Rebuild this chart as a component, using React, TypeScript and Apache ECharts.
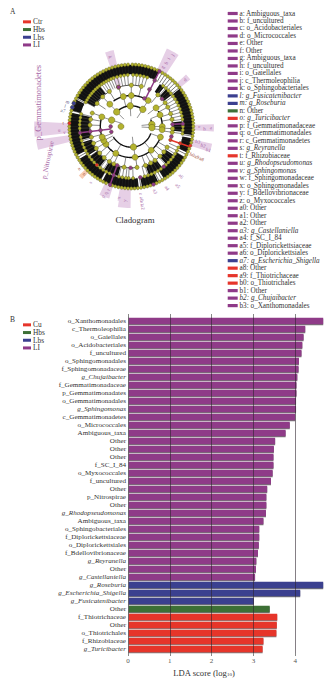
import React, { useEffect, useRef } from "react";
import * as echarts from "echarts";

// ---------- colours ----------
const PURPLE = "#8f3a88";
const BLUE = "#3b3f8f";
const GREEN = "#3d7036";
const RED = "#e6352b";
const YELLOW = "#b4b32f";
const SERIF = "Liberation Serif";

// ---------- bar chart data (top to bottom) ----------
const ldaLabels = [
  "o_Xanthomonadales", "c_Thermoleophilia", "o_Gaiellales", "o_Acidobacteriales", "f_uncultured",
  "o_Sphingomonadales", "f_Sphingomonadaceae", "g_Chujaibacter", "f_Gemmatimonadaceae", "p_Gemmatimonadates",
  "o_Gemmatimonadales", "g_Sphingomonas", "c_Gemmatimonadetes", "o_Micrococcales", "Ambiguous_taxa",
  "Other", "Other", "Other", "f_SC_I_84", "o_Myxococcales", "f_uncultured", "Other", "p_Nitrospirae", "Other",
  "g_Rhodopseudomonas", "Ambiguous_taxa", "o_Sphingobacteriales", "f_Diplorickettsiaceae", "o_Diplorickettsiales",
  "f_Bdellovibrionaceae", "g_Reyranella", "Other", "g_Castellaniella",
  "g_Roseburia", "g_Escherichia_Shigella", "g_Fusicatenibacter",
  "Other",
  "f_Thiotrichaceae", "Other", "o_Thiotrichales", "f_Rhizobiaceae", "g_Turicibacter",
];
const ldaLI = [
  4.67, 4.24, 4.2, 4.17, 4.15, 4.09, 4.08, 4.05, 4.03, 4.03, 4.02, 4.02, 4.0, 3.87, 3.77,
  3.52, 3.49, 3.48, 3.48, 3.46, 3.42, 3.33, 3.31, 3.31, 3.3, 3.24, 3.14, 3.14, 3.13, 3.11, 3.07, 3.06, 3.04,
];
const ldaLbs = [4.67, 4.12, 3.01];
const ldaHbs = [3.39];
const ldaCu = [3.57, 3.56, 3.55, 3.24, 3.22];
const ldaTicks = [0, 1, 2, 3, 4];

// ---------- key list ----------
const keyLabels = [
  "a: Ambiguous_taxa", "b: f_uncultured", "c: o_Acidobacteriales", "d: o_Micrococcales", "e: Other", "f: Other",
  "g: Ambiguous_taxa", "h: f_uncultured", "i: o_Gaiellales", "j: c_Thermoleophilia", "k: o_Sphingobacteriales",
  "l: g_Fusicatenibacter", "m: g_Roseburia", "n: Other", "o: g_Turicibacter", "p: f_Gemmatimonadaceae",
  "q: o_Gemmatimonadales", "r: c_Gemmatimonadetes", "s: g_Reyranella", "t: f_Rhizobiaceae", "u: g_Rhodopseudomonas",
  "v: g_Sphingomonas", "w: f_Sphingomonadaceae", "x: o_Sphingomonadales", "y: f_Bdellovibrionaceae", "z: o_Myxococcales",
  "a0: Other", "a1: Other", "a2: Other", "a3: g_Castellaniella", "a4: f_SC_I_84", "a5: f_Diplorickettsiaceae",
  "a6: o_Diplorickettsiales", "a7: g_Escherichia_Shigella", "a8: Other", "a9: f_Thiotrichaceae", "b0: o_Thiotrichales",
  "b1: Other", "b2: g_Chujaibacter", "b3: o_Xanthomonadales",
];
const keyClasses = [
  "LI", "LI", "LI", "LI", "LI", "LI", "LI", "LI", "LI", "LI", "LI", "Lbs", "Lbs", "Hbs", "Cu", "LI", "LI", "LI", "LI", "Cu",
  "LI", "LI", "LI", "LI", "LI", "LI", "LI", "LI", "LI", "LI", "LI", "LI", "LI", "Lbs", "Cu", "Cu", "Cu", "LI", "LI", "LI",
];
const classColors: Record<string, string> = { LI: PURPLE, Lbs: BLUE, Hbs: GREEN, Cu: RED };

// ---------- cladogram data: angle in degrees clockwise from top, radius in ring levels ----------
const nodesL0 = [270];
const nodesL1 = [174, 357, 34, 84, 93, 315, 288];
const nodesL2 = [0, 33, 53, 68, 90, 96, 173, 288, 316, 140, 210, 235, 345, 110, 243, 250];
const nodesL3 = [
  0, 14, 342, 328, 316, 304, 289, 280, 272, 255, 246, 238, 230, 221, 212, 205, 190, 172, 160, 152, 145, 136, 128, 120,
  98, 93, 80, 72, 62, 55, 40,
];
const nodesL4 = [
  2, 6, 10, 14, 18, 340, 344, 348, 352, 356, 298, 301, 304, 307, 310, 313, 316, 319, 322, 325, 328, 331, 334, 337,
  38, 42, 46, 50, 54, 58, 62, 66, 70, 74, 78, 82, 90, 94, 98, 114, 118, 122, 126, 130, 134, 138, 145, 149, 153, 157, 161,
  165, 178, 183, 186, 190, 194, 205, 209, 213, 217, 221, 226, 230, 234, 238, 242, 246, 250, 254, 258, 268, 272, 276, 280, 284,
];
const nodesL5 = [
  1, 4, 7, 10, 13, 16, 19, 22, 25, 30, 33, 36, 39, 42, 45, 48, 51, 54, 57, 60, 63, 66, 69, 72, 75, 78, 81, 84, 87, 90,
  93, 96, 99, 102, 105, 111, 114, 117, 120, 123, 126, 129, 132, 135, 138, 141, 144, 147, 150, 153, 156, 162, 165, 168,
  171, 174, 177, 180, 183, 186, 189, 192, 195, 198, 204, 207, 210, 213, 216, 219, 222, 225, 228, 231, 234, 237, 240, 243,
  246, 249, 252, 255, 258, 261, 264, 267, 270, 276, 279, 282, 285, 294, 297, 300, 303, 306, 309, 312, 315, 318, 321, 324,
  327, 330, 333, 336, 339, 342, 345, 348, 351, 354, 357,
];
const nodesLI = [
  [3, 25], [4, 26], [5, 27], [6, 27], [4, 48], [4, 342], [4, 87], [5, 87], [4, 104], [5, 141], [6, 159], [5, 170], [4, 181],
  [4, 200], [5, 200], [6, 200], [5, 263], [4, 263], [3, 263], [2, 255], [2, 270],
];
const nodesCtr = [[4, 109], [5, 109], [6, 108], [5, 222], [6, 273]];
const nodesLbs = [[6, 292], [6, 288]];
const nodesHbs: number[][] = [];

// [angle from, angle to, inner level, outer level]
const shadesPurple = [
  [340.5, 347, 6.1, 7.6], [24.5, 33.5, 6.1, 8.3], [46.5, 51.5, 6.1, 7.3], [88.5, 93.5, 6.1, 8], [102, 108, 6.1, 8],
  [180.5, 189.5, 6.1, 7.9], [197, 205, 6.1, 7.3], [188, 190.5, 6.1, 7.3], [264, 273, 6.1, 9.4], [256, 262, 6.1, 9.3], [340, 346, 4.1, 4.9],
];
const shadesOrange = [[223, 227, 6.1, 6.95]];
const blackBands = [
  [298, 387, 5.05, 5.95], [52, 98, 5.05, 5.95], [101, 115, 5.05, 5.95], [120, 148, 5.05, 5.95], [154, 170, 5.05, 5.95],
  [173, 208, 5.05, 5.95], [210, 238, 5.05, 5.95], [242, 283, 5.05, 5.95], [285, 296, 5.05, 5.95],
  [255, 283, 4.05, 4.95], [236, 252, 4.05, 4.95], [195, 212, 4.05, 4.95], [218, 234, 4.05, 4.95], [298, 322, 4.05, 4.95],
  [34, 40, 4.05, 4.95], [43, 52, 4.05, 4.95], [84, 96, 4.05, 4.95], [124, 137, 4.05, 4.95], [143, 160, 4.05, 4.95],
];
// [angle from, angle to, level]
const thickArcs = [
  [105, 250, 3], [325, 395, 3], [110, 240, 2], [315, 390, 2], [70, 100, 2], [60, 100, 3], [250, 290, 3],
];
const thinArcs = [
  [340, 374, 4], [40, 100, 4], [120, 165, 4], [205, 250, 4], [300, 330, 4], [175, 200, 4], [255, 285, 4],
];
// [angle, inner level, outer level]
const pathsPurple = [[27, 3, 6], [200, 4, 6], [263, 2, 5], [87, 4, 5]];
const pathsRed = [[109, 4, 6]];
// [text, angle, level]
const cladeLabelsPurple: [string, number, number][] = [
  ["k", 343, 7], ["g", 28, 6.5], ["h", 29, 7], ["i", 29, 7.5], ["j", 30, 8], ["d", 49, 6.9], ["c", 90, 6.6], ["b", 92, 7.1],
  ["a", 91, 7.7], ["b3", 103, 6.6], ["b2", 105, 7.2], ["b1", 107, 7.8], ["a6", 135, 6.8], ["a5", 142, 7.3], ["a4", 150, 6.9],
  ["a3", 160, 6.7], ["z", 172, 6.6], ["a0", 172, 7.1], ["a1", 172, 7.5], ["a2", 172, 7.9], ["y", 185, 7.2], ["x", 190, 7],
  ["r", 200, 6.5], ["q", 201, 6.9], ["p", 202, 7.3], ["s", 216, 6.7], ["u", 267, 7], ["v", 265, 6.5],
];
const cladeLabelsRed: [string, number, number][] = [
  ["b0", 115, 6.5], ["a9", 115, 7], ["a8", 115, 7.5], ["t", 273, 6.6], ["o", 225, 6.5], ["n", 231, 6.5],
];
const cladeLabelsBlue: [string, number, number][] = [["m", 291, 6.6], ["l", 287, 6.7], ["a7", 283, 6.8]];
const phylumLabels: [string, number, number, number, number][] = [
  ["p_Gemmatimonadetes", 284.5, 9.26, 90, 8.4],
  ["p_Nitrospirae", 248, 8.7, 78, 7],
];

// ---------- helpers ----------
const arcPoints = (api: any, a0: number, a1: number, r: number) => {
  const pts: number[][] = [];
  for (let a = a0; a < a1; a += 2) pts.push(api.coord([r, a % 360]));
  pts.push(api.coord([r, a1 % 360]));
  return pts;
};
const polarBase = { type: "custom", coordinateSystem: "polar", polarIndex: 0, silent: true, encode: { angle: 0, radius: 2 } };
const bandSeries = (rows: number[][], fill: string, z: number) => ({
  ...polarBase,
  z,
  data: rows,
  renderItem: (_: any, api: any) => {
    const outer = arcPoints(api, api.value(0), api.value(1), api.value(3));
    const inner = arcPoints(api, api.value(0), api.value(1), api.value(2)).reverse();
    return { type: "polygon", shape: { points: outer.concat(inner) }, style: { fill } };
  },
});
const arcSeries = (rows: number[][], stroke: string, lineWidth: number, z: number) => ({
  ...polarBase,
  z,
  data: rows,
  renderItem: (_: any, api: any) => ({
    type: "polyline",
    shape: { points: arcPoints(api, api.value(0), api.value(1), api.value(2)) },
    style: { stroke, lineWidth, fill: "none" },
  }),
});
const spokeSeries = (rows: number[][], stroke: string, lineWidth: number, z: number) => ({
  ...polarBase,
  z,
  data: rows,
  renderItem: (_: any, api: any) => {
    const p = api.coord([api.value(1), api.value(0)]);
    const q = api.coord([api.value(2), api.value(0)]);
    return { type: "line", shape: { x1: p[0], y1: p[1], x2: q[0], y2: q[1] }, style: { stroke, lineWidth } };
  },
});
const nodeSeries = (name: string, data: number[][], color: string, size: number, z: number) => ({
  type: "scatter",
  coordinateSystem: "polar",
  polarIndex: 0,
  name,
  z,
  silent: true,
  symbolSize: size,
  data,
  itemStyle: { color, borderColor: "#4f4f14", borderWidth: 0.4, opacity: 1 },
});
const ring = (angles: number[], level: number) => angles.map((a) => [level, a]);
const spokes = (angles: number[], level: number) => angles.map((a) => [a, level - 1, level]);
const labelSeries = (rows: [string, number, number][], fill: string) => ({
  ...polarBase,
  z: 6,
  encode: { angle: 1, radius: 0 },
  data: rows.map((r) => [r[2], r[1]]),
  renderItem: (params: any, api: any) => {
    const row = rows[params.dataIndex];
    const p = api.coord([row[2], row[1]]);
    const deg = row[1] <= 180 ? 90 - row[1] : 270 - row[1];
    return {
      type: "text",
      x: p[0],
      y: p[1],
      rotation: (deg * Math.PI) / 180,
      style: { text: row[0], fill, fontSize: 5, fontFamily: SERIF, align: "center", verticalAlign: "middle" },
    };
  },
});
const phylumSeries = {
  ...polarBase,
  z: 6,
  encode: { angle: 1, radius: 0 },
  data: phylumLabels.map((r) => [r[2], r[1]]),
  renderItem: (params: any, api: any) => {
    const row = phylumLabels[params.dataIndex];
    const p = api.coord([row[2], row[1]]);
    return {
      type: "text",
      x: p[0],
      y: p[1],
      rotation: (row[3] * Math.PI) / 180,
      style: { text: row[0], fill: "#a565a5", fontSize: row[4], fontFamily: SERIF, align: "center", verticalAlign: "middle" },
    };
  },
};
const indexed = (values: number[], offset: number) => values.map((v, i) => [v, i + offset]);
const barSeries = (name: string, data: number[][], color: string) => ({
  type: "bar",
  name,
  xAxisIndex: 0,
  yAxisIndex: 0,
  data,
  barWidth: 6.6,
  barGap: "-100%",
  silent: true,
  z: 2,
  itemStyle: { color, shadowColor: "rgba(90,90,90,0.85)", shadowBlur: 0, shadowOffsetY: 1 },
});
const keyGraphics = keyLabels.flatMap((label, i) => {
  const y = 13.5 + i * 7.49;
  const italic = label.includes(" g_");
  return [
    { type: "rect", silent: true, shape: { x: 227.7, y: y - 1.6, width: 10, height: 3.2 }, style: { fill: classColors[keyClasses[i]] } },
    {
      type: "text",
      silent: true,
      x: 239.5,
      y,
      style: { text: label, fill: "#333", fontSize: 7.2, fontFamily: SERIF, fontStyle: italic ? "italic" : "normal", verticalAlign: "middle" },
    },
  ];
});
const plainText = (text: string, x: number, y: number, fontSize: number) => ({
  type: "text",
  silent: true,
  x,
  y,
  style: { text, fill: "#333", fontSize, fontFamily: SERIF, verticalAlign: "middle" },
});
const legendBase = {
  orient: "vertical",
  left: 23,
  icon: "rect",
  itemWidth: 8,
  itemHeight: 3,
  itemGap: 0,
  selectedMode: false,
  itemStyle: { borderWidth: 0, shadowBlur: 0, shadowOffsetY: 0 },
  textStyle: { fontFamily: SERIF, fontSize: 7.4, color: "#333", padding: [0, 0, 0, -3], lineHeight: 7.7, height: 7.7 },
  padding: 0,
};

export default function App() {
  const ref = useRef<HTMLDivElement>(null);
  useEffect(() => {
    document.body.style.margin = "0";
    const chart = echarts.init(ref.current!, undefined, { renderer: "svg" });
    const axisGray = "rgba(45,35,45,0.58)";
    chart.setOption({
      animation: false,
      backgroundColor: "#fff",
      textStyle: { fontFamily: SERIF },
      legend: [
        { ...legendBase, top: 18, data: ["Ctr", "Hbs", "Lbs", "LI"] },
        { ...legendBase, top: 321, data: ["Cu", "Hbs", "Lbs", "LI"] },
      ],
      polar: { center: [131.3, 126.5], radius: 103.3 },
      angleAxis: { type: "value", min: 0, max: 360, startAngle: 90, clockwise: true, show: false },
      radiusAxis: { type: "value", min: 0, max: 10, show: false },
      grid: { left: 128, top: 317, width: 209, height: 336, containLabel: false, outerBoundsMode: "none" },
      xAxis: [
        {
          type: "value",
          min: 0,
          max: 5,
          interval: 1,
          z: 5,
          position: "bottom",
          axisLine: { show: false },
          axisTick: { show: true, length: 3, lineStyle: { color: "#888", width: 1 } },
          splitLine: { show: true, lineStyle: { color: axisGray, width: 1 } },
          axisLabel: {
            color: "#555",
            fontSize: 7,
            fontFamily: SERIF,
            margin: 4,
            formatter: (v: number) => (ldaTicks.includes(v) ? String(v) : ""),
          },
        },
        {
          type: "value",
          min: 0,
          max: 5,
          interval: 1,
          position: "top",
          axisLine: { show: false },
          axisLabel: { show: false },
          axisTick: { show: true, length: 3, lineStyle: { color: "#888", width: 1 } },
          splitLine: { show: false },
        },
      ],
      yAxis: {
        type: "category",
        inverse: true,
        data: ldaLabels,
        z: 5,
        axisLine: { show: true, lineStyle: { color: "#777", width: 0.7 } },
        axisTick: { show: false },
        axisLabel: {
          interval: 0,
          margin: 2,
          fontSize: 7.1,
          fontFamily: SERIF,
          color: "#333",
          formatter: (v: string) => (v.startsWith("g_") ? `{it|${v}}` : v),
          rich: { it: { fontSize: 7.1, fontFamily: SERIF, fontStyle: "italic", color: "#333" } },
        },
      },
      series: [
        bandSeries(shadesPurple, "#e6cfe6", 1),
        bandSeries(shadesOrange, "#f8cdb4", 1),
        bandSeries(blackBands, "#111111", 2),
        spokeSeries(spokes(nodesL5, 6), "#222", 0.6, 3),
        spokeSeries(spokes(nodesL4, 5), "#444", 0.6, 3),
        spokeSeries(spokes(nodesL3, 4), "#555", 0.7, 3),
        spokeSeries(spokes(nodesL2, 3), "#777", 0.8, 3),
        spokeSeries(spokes(nodesL1, 2), "#777", 0.8, 3),
        arcSeries(thinArcs, "#222", 0.8, 3),
        arcSeries(thickArcs, "#111", 1.4, 4),
        spokeSeries(pathsPurple, PURPLE, 1.5, 4),
        spokeSeries(pathsRed, RED, 1.5, 4),
        nodeSeries("L0", ring(nodesL0, 1), YELLOW, 6, 5),
        nodeSeries("L1", ring(nodesL1, 2), YELLOW, 6.5, 5),
        nodeSeries("L2", ring(nodesL2, 3), YELLOW, 6, 5),
        nodeSeries("L3", ring(nodesL3, 4), YELLOW, 4.2, 5),
        nodeSeries("L4", ring(nodesL4, 5), YELLOW, 3.2, 5),
        nodeSeries("L5", ring(nodesL5, 6), YELLOW, 3.2, 5),
        nodeSeries("Ctr", nodesCtr, RED, 3.4, 6),
        nodeSeries("Hbs", nodesHbs, GREEN, 3.4, 6),
        nodeSeries("Lbs", nodesLbs, BLUE, 4, 6),
        nodeSeries("LI", nodesLI, PURPLE, 3.8, 6),
        labelSeries(cladeLabelsPurple, "#a565a5"),
        labelSeries(cladeLabelsRed, "#a0503c"),
        labelSeries(cladeLabelsBlue, "#55557f"),
        phylumSeries,
        barSeries("LI", indexed(ldaLI, 0), PURPLE),
        barSeries("Lbs", indexed(ldaLbs, ldaLI.length), BLUE),
        barSeries("Hbs", indexed(ldaHbs, ldaLI.length + ldaLbs.length), GREEN),
        barSeries("Cu", indexed(ldaCu, ldaLI.length + ldaLbs.length + ldaHbs.length), RED),
      ],
      graphic: [
        ...keyGraphics,
        plainText("A", 10, 11.5, 7.5),
        plainText("B", 10, 319, 7.5),
        plainText("Cladogram", 115.5, 220, 8.8),
        {
          type: "text",
          silent: true,
          x: 204,
          y: 672.5,
          style: {
            text: "LDA score (log{sub|10})",
            fill: "#333",
            fontSize: 8.6,
            fontFamily: SERIF,
            align: "center",
            verticalAlign: "middle",
            rich: { sub: { fontSize: 5, fontFamily: SERIF, fill: "#333", verticalAlign: "bottom", padding: [3, 0, 0, 0] } },
          },
        },
      ],
    });
    return () => chart.dispose();
  }, []);
  return <div ref={ref} style={{ width: 335, height: 681 }} />;
}
